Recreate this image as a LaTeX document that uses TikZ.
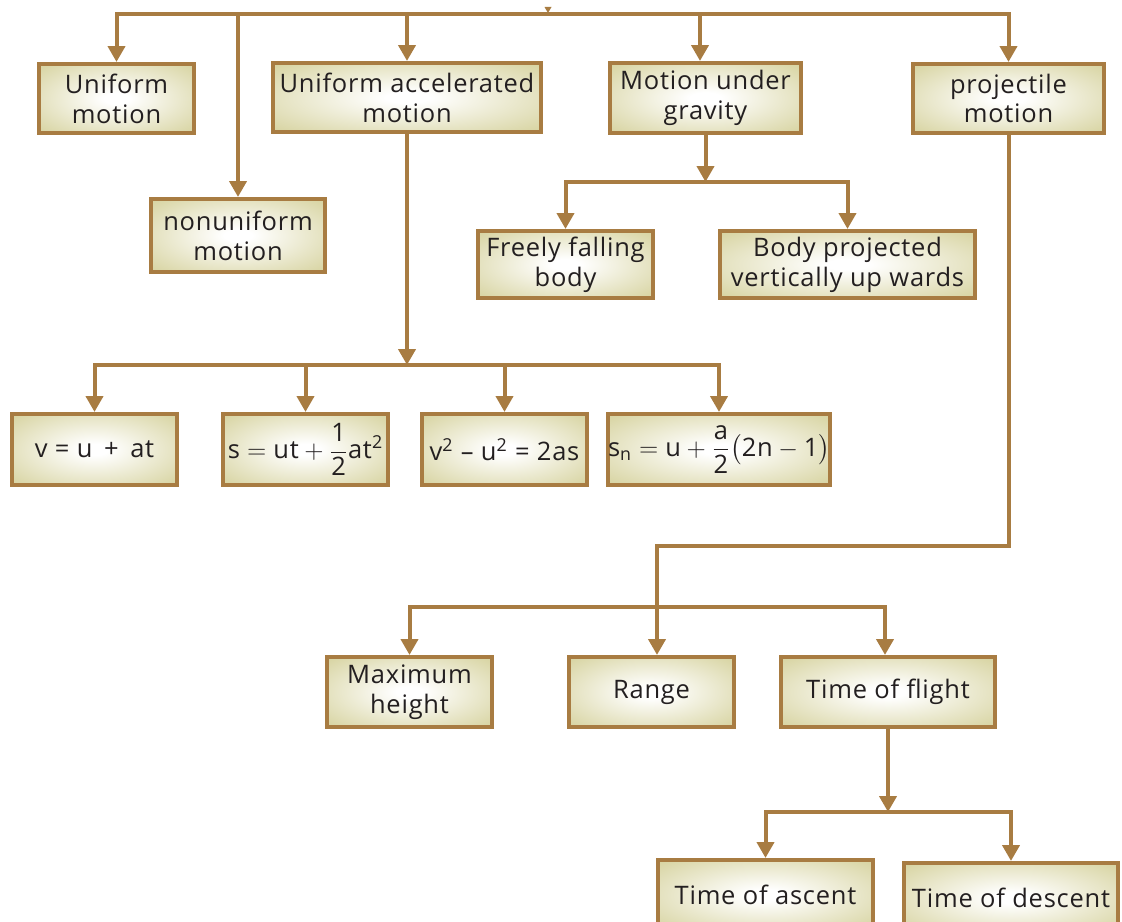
\documentclass[tikz,border=0pt]{standalone}
\usepackage{amsmath}
\usepackage{fontspec}
\setmainfont{Open Sans}[LetterSpace=3]
\usetikzlibrary{arrows.meta}
\definecolor{lnc}{HTML}{A87C42}
\definecolor{fillc}{HTML}{D3CF97}
\definecolor{txt}{HTML}{231F20}
\pgfdeclareradialshading{boxshade}{\pgfpoint{0bp}{0bp}}{color(0bp)=(white); color(4bp)=(white); color(38bp)=(fillc); color(100bp)=(fillc)}
\tikzset{
  box/.style={draw=lnc, line width=0.08cm, shading=boxshade, inner sep=0pt, align=center, text=txt, font=\fontsize{14.5}{17}\selectfont},
  ln/.style={draw=lnc, line width=0.08cm},
  >={Triangle[width=0.34cm,length=0.32cm]},
}
\newcommand\bx[6]{\node[box, minimum width=#4*0.02cm, minimum height=#5*0.02cm] (#1) at (#2,#3) {#6};}
\begin{document}
\begin{tikzpicture}[x=0.02cm, y=-0.02cm]
\useasboundingbox (0,0) rectangle (1122,922);
% boxes
\bx{um}{116.5}{98.5}{155}{69}{Uniform\\motion}
\bx{uam}{407}{97.5}{268}{69}{Uniform accelerated\\motion}
\bx{mug}{705.5}{98}{191}{70}{Motion under\\gravity}
\bx{pm}{1008.5}{98.5}{191}{69}{projectile\\motion}
\bx{num}{238}{235.5}{174}{73}{nonuniform\\motion}
\bx{ffb}{565.5}{264.5}{175}{67}{Freely falling\\body}
\bx{bpv}{847.5}{264.5}{255}{67}{Body projected\\vertically up wards}
\bx{e1}{94.5}{449.5}{165}{71}{v = u\,\ +\, at}
\bx{e2}{305.5}{449.5}{165}{71}{$\displaystyle \text{s} = \text{ut} + \frac{\text{1}}{\text{2}}\text{at}^{\text{2}}$}
\bx{e3}{504.5}{449.5}{165}{71}{v$^{\text{2}}$ – u$^{\text{2}}$ = 2as}
\bx{e4}{719}{449.5}{222}{71}{$\displaystyle \text{s}_{\text{n}} = \text{u} + \frac{\text{a}}{\text{2}}\bigl(\text{2n} - \text{1}\bigr)$}
\bx{mh}{409.5}{692}{165}{70}{Maximum\\height}
\bx{rg}{651.5}{692}{165}{70}{Range}
\bx{tf}{888}{692}{214}{70}{Time of flight}
\bx{ta}{765.5}{895}{215}{70}{Time of ascent}
\bx{td}{1011}{898}{214}{70}{Time of descent}
% junction coordinates
\coordinate (t1) at (0,14);
\coordinate (j1) at (0,365);
\coordinate (j2) at (0,182);
\coordinate (j3) at (657,546);
\coordinate (j4) at (0,607);
\coordinate (j5) at (0,812);
\coordinate (tt) at (548,13);
% top bar
\draw[ln,<->] (um.north) -- (um.north |- t1) -- (pm.north |- t1) -- (pm.north);
\draw[ln,->] (num.north |- t1) -- (num.north);
\draw[ln,->] (uam.north |- t1) -- (uam.north);
\draw[ln,->] ([xshift=-5.5*0.02cm]mug.north |- t1) -- ([xshift=-5.5*0.02cm]mug.north);
\fill[lnc] (tt) -- ++(-3.5,-6) -- ++(7,0) -- cycle;
% uniform accelerated branch
\draw[ln,->] (uam.south) -- (uam.south |- j1);
\draw[ln,<->] (e1.north) -- (e1.north |- j1) -- (e4.north |- j1) -- (e4.north);
\draw[ln,->] (e2.north |- j1) -- (e2.north);
\draw[ln,->] (e3.north |- j1) -- (e3.north);
% gravity branch
\draw[ln,->] (mug.south) -- (mug.south |- j2);
\draw[ln,<->] (ffb.north) -- (ffb.north |- j2) -- (bpv.north |- j2) -- (bpv.north);
% projectile branch
\draw[ln,->] (pm.south) -- (pm.south |- j3) -- (j3) -- (j3 |- rg.north);
\draw[ln,<->] (mh.north) -- (mh.north |- j4) -- ([xshift=-3*0.02cm]tf.north |- j4) -- ([xshift=-3*0.02cm]tf.north);
% time of flight branch
\draw[ln,->] (tf.south) -- (tf.south |- j5);
\draw[ln,<->] (ta.north) -- (ta.north |- j5) -- (td.north |- j5) -- (td.north);
\end{tikzpicture}
\end{document}
